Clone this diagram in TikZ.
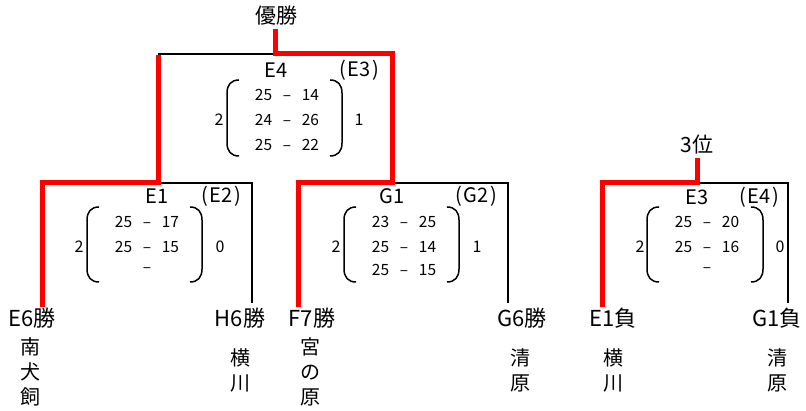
\documentclass[tikz,border=0pt]{standalone}
\usepackage{fontspec}
\setmainfont{Noto Sans CJK JP}
\newcommand\scorerow[2]{\makebox[23.5pt]{#1}\makebox[23.5pt]{–}\makebox[23.5pt]{#2}}
\newcommand\pl[1]{(\kern2pt#1\kern1.5pt)}
\newcommand\drawparens[4]{%
  \draw[paren] (#1+12,#3) .. controls (#1+4,#3) and (#1,#3+5) .. (#1,#3+13) -- (#1,#4-13) .. controls (#1,#4-5) and (#1+4,#4) .. (#1+12,#4);
  \draw[paren] (#2-12,#3) .. controls (#2-4,#3) and (#2,#3+5) .. (#2,#3+13) -- (#2,#4-13) .. controls (#2,#4-5) and (#2-4,#4) .. (#2-12,#4);
}
\begin{document}
\begin{tikzpicture}[x=1pt,y=-1pt,
  win/.style={draw=red, line width=5pt, line join=miter},
  lose/.style={draw=black, line width=1.8pt},
  paren/.style={draw=black, line width=1.5pt},
  title/.style={font=\fontsize{21}{21}\selectfont, inner sep=0pt},
  team/.style={font=\fontsize{22}{22}\selectfont, inner sep=0pt},
  tname/.style={font=\fontsize{20}{25}\selectfont, inner sep=0pt, align=center},
  match/.style={font=\fontsize{20}{20}\selectfont, inner sep=0pt},
  score/.style={font=\fontsize{15.5}{15.5}\selectfont, inner sep=0pt},
  sets/.style={font=\fontsize{16}{16}\selectfont, inner sep=0pt}]
\useasboundingbox[fill=white] (0,0) rectangle (806,411);
% titles
\node[title] (c0) at (276,16) {優勝};
\node[title] (c3) at (697,145) {3位};
% bracket coordinates
\coordinate (e4L) at (158,54);
\coordinate (e4M) at (275,54);
\coordinate (e4R) at (392,54);
\coordinate (e1L) at (42,183);
\coordinate (e1M) at (158,183);
\coordinate (e1R) at (252,183);
\coordinate (g1L) at (298,183);
\coordinate (g1M) at (392,183);
\coordinate (g1R) at (508,183);
\coordinate (t3L) at (602,183);
\coordinate (t3M) at (697,183);
\coordinate (t3R) at (788,183);
\coordinate (c0b) at (275,29);
\coordinate (c3b) at (697,158);
\coordinate (bE6) at (42,307);
\coordinate (bH6) at (252,303);
\coordinate (bF7) at (298,307);
\coordinate (bG6) at (508,303);
\coordinate (bE1) at (602,307);
\coordinate (bG1) at (788,303);
% teams
\node[team] (tE6) at (32,318) {E6勝};
\node[team] (tH6) at (240,318) {H6勝};
\node[team] (tF7) at (312,318) {F7勝};
\node[team] (tG6) at (522,318) {G6勝};
\node[team] (tE1) at (613,318) {E1負};
\node[team] (tG1) at (777,318) {G1負};
\node[tname] (nE6) at (30,372) {南\\犬\\飼};
\node[tname] (nH6) at (240,370.5) {横\\川};
\node[tname] (nF7) at (310,372) {宮\\の\\原};
\node[tname] (nG6) at (520,370.5) {清\\原};
\node[tname] (nE1) at (613,370.5) {横\\川};
\node[tname] (nG1) at (777,370.5) {清\\原};
% black lines
\draw[lose] (e4L) -- (e4M);
\draw[lose] (e1M) -- (e1R) -- (bH6);
\draw[lose] (g1M) -- (g1R) -- (bG6);
\draw[lose] (t3M) -- (t3R) -- (bG1);
% red lines
\draw[win] (c0b) -- (e4M) -- (e4R) -- (g1M) -- (g1L) -- (bF7);
\draw[win] ([yshift=-1pt]e4L) -- (e1M) -- (e1L) -- (bE6);
\draw[win] (c3b) -- (t3M) -- (t3L) -- (bE1);
% match labels
\node[match] (mE4) at (276,70) {E4};
\node[match] (mE4b) at (359,70) {\pl{E3}};
\node[match] (mE1) at (157,196) {E1};
\node[match] (mE1b) at (221,196) {\pl{E2}};
\node[match] (mG1) at (392,196) {G1};
\node[match] (mG1b) at (476,196) {\pl{G2}};
\node[match] (mE3) at (697,197) {E3};
\node[match] (mE3b) at (759,197) {\pl{E4}};
% E4 scores
\drawparens{227}{342}{80}{156}
\node[score] (s41) at (287,95) {\scorerow{25}{14}};
\node[score] (s42) at (287,120) {\scorerow{24}{26}};
\node[score] (s43) at (287,145) {\scorerow{25}{22}};
\node[sets] (s4a) at (219,120) {2};
\node[sets] (s4b) at (359,120) {1};
% E1 scores
\drawparens{87}{202}{207}{282}
\node[score] (s11) at (147,222) {\scorerow{25}{17}};
\node[score] (s12) at (147,247) {\scorerow{25}{15}};
\node[score] (s13) at (147,270) {\scorerow{}{}};
\node[sets] (s1a) at (79,247) {2};
\node[sets] (s1b) at (220,247) {0};
% G1 scores
\drawparens{344}{459}{207}{282}
\node[score] (sg1) at (404,222) {\scorerow{23}{25}};
\node[score] (sg2) at (404,247) {\scorerow{25}{14}};
\node[score] (sg3) at (404,270) {\scorerow{25}{15}};
\node[sets] (sga) at (336,247) {2};
\node[sets] (sgb) at (477,247) {1};
% E3 scores
\drawparens{647}{763}{207}{282}
\node[score] (s31) at (707,222) {\scorerow{25}{20}};
\node[score] (s32) at (707,247) {\scorerow{25}{16}};
\node[score] (s33) at (707,270) {\scorerow{}{}};
\node[sets] (s3a) at (640,247) {2};
\node[sets] (s3b) at (780,247) {0};
\end{tikzpicture}
\end{document}
